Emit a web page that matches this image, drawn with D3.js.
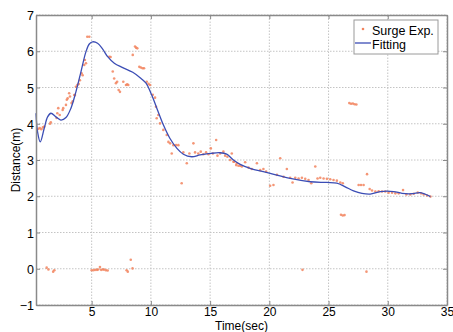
<!DOCTYPE html>
<html>
<head>
<meta charset="utf-8">
<script src="https://cdn.jsdelivr.net/npm/d3@7"></script>
<style>
  html, body { margin: 0; padding: 0; background: #fff; }
  svg { display: block; }
  text { font-family: "Liberation Sans", Arial, Helvetica, sans-serif; fill: #000; }
</style>
</head>
<body>
<svg id="chart" width="453" height="332"></svg>
<script>
// Surge experiment samples: time (s) and measured distance (m)
const surgeTime = [
  0.5, 0.62, 0.75, 0.88, 1.0, 1.48, 1.55, 2.04, 2.1, 2.18, 2.3, 2.55, 2.6, 2.83, 2.9, 2.97,
  3.1, 3.17, 3.3, 3.4, 3.53, 3.59, 3.67, 3.79, 3.9, 4.01, 4.15, 4.24, 4.37, 4.43, 4.52, 4.63, 4.8,
  6.49, 6.6, 6.78, 6.9, 7.05, 7.15, 7.28, 7.39, 7.67, 7.9, 8.0, 8.09, 8.47, 8.66, 8.75, 8.85,
  9.02, 9.15, 9.3, 9.42, 9.65, 9.8, 9.93, 10.16, 10.35,
  10.43, 10.49, 10.63, 10.77, 11.05, 11.34, 11.48, 11.62, 11.76, 11.9, 12.13, 12.32, 12.6, 12.74,
  13.03, 13.25, 13.59, 13.73, 14.0, 14.21, 14.43, 14.66, 14.86, 15.06, 15.23, 15.51, 15.62, 15.85,
  16.12, 16.27, 16.46, 16.69, 16.83, 16.97, 17.03, 17.2, 17.26, 17.39, 17.54, 17.68, 17.96, 18.24,
  18.52, 18.95, 19.23, 19.5, 19.73, 20.07, 20.35, 20.64, 20.92, 21.2, 21.48, 21.76, 21.96, 22.19,
  22.47, 22.75, 23.03, 23.31, 23.54, 23.88, 24.07, 24.3, 24.58, 24.86, 25.14, 25.42, 25.7, 25.99,
  26.2, 27.54, 27.74, 27.96, 28.25, 28.47, 28.67, 28.95, 29.23, 29.51, 29.79, 30.07, 30.36, 30.64,
  30.92, 31.29, 31.57, 31.9, 32.19, 32.53, 32.81, 33.03, 33.32, 33.6,
  26.05, 26.2, 26.35,
  26.75, 26.9, 27.05, 27.2, 27.35,
  1.2, 1.35, 1.75, 1.85, 5.0, 5.15, 5.3, 5.45, 5.55, 5.7, 5.8, 5.95, 6.05, 6.2, 6.35,
  7.95, 8.05, 8.3, 8.45, 22.8, 28.2
];
const surgeDistance = [
  3.86, 3.88, 3.85, 3.9, 3.92, 4.0, 4.04, 4.16, 4.29, 4.43, 4.24, 4.38, 4.43, 4.52, 4.66, 4.7,
  4.84, 4.75, 4.57, 4.62, 4.79, 4.79, 5.02, 5.07, 5.1, 5.2, 5.39, 5.34, 5.62, 5.76, 5.67, 6.4, 6.4,
  5.85, 5.84, 5.44, 5.25, 5.12, 5.16, 4.93, 4.88, 5.16, 5.07, 5.09, 5.07, 5.9, 6.13, 6.1, 6.08,
  5.57, 5.55, 5.53, 5.53, 5.16, 5.1, 5.07, 4.8, 4.72,
  4.47, 4.15, 4.24, 4.01, 3.83, 3.69, 3.5, 3.46, 3.18, 3.41, 3.41, 3.41, 2.36, 3.21,
  2.91, 3.18, 3.46, 3.21, 3.18, 3.23, 3.16, 3.21, 3.16, 3.32, 3.18, 3.55, 3.12, 3.18,
  3.23, 3.12, 3.09, 3.0, 3.18, 2.95, 2.95, 2.86, 2.91, 2.84, 2.84, 2.82, 2.94, 2.79,
  2.75, 2.91, 2.72, 2.75, 2.68, 2.29, 2.31, 2.59, 3.05, 2.54, 2.75, 2.51, 2.38, 2.51,
  2.49, 2.51, 2.48, 2.45, 2.36, 2.82, 2.49, 2.51, 2.49, 2.48, 2.47, 2.45, 2.43, 2.38,
  2.36, 2.31, 2.31, 2.31, 2.61, 2.2, 2.16, 2.13, 2.14, 2.13, 2.13, 2.1, 2.1, 2.08,
  2.08, 2.17, 2.05, 2.05, 2.07, 2.1, 2.08, 2.05, 2.02, 1.99,
  1.49, 1.47, 1.48,
  4.57, 4.55, 4.56, 4.54, 4.53,
  0.03, -0.02, -0.08, -0.04, -0.04, -0.04, -0.03, -0.03, -0.02, 0.05, -0.03, -0.02, -0.02, -0.04, -0.05,
  -0.04, -0.08, 0.25, 0.01, -0.03, -0.08
];

// Fitted curve knots: time (s) and distance (m)
const fitTime = [
  0.3, 0.43, 0.66, 0.99, 1.28, 1.56, 1.98, 2.4, 2.83, 3.25, 3.67, 4.1, 4.52, 4.8, 5.08, 5.5,
  5.93, 6.35, 6.91, 7.62, 8.47, 9.17, 9.59, 10.07, 10.5, 11.05, 11.6, 12.2, 12.74, 13.45, 14.15,
  15.0, 15.85, 16.4, 16.97, 17.54, 18.38, 20.07, 21.76, 23.45, 24.86, 25.7, 26.41, 27.11, 27.82,
  28.52, 29.37, 30.5, 31.2, 32.05, 32.75, 33.6
];
const fitDistance = [
  4.29, 3.78, 3.5, 3.87, 4.19, 4.29, 4.19, 4.1, 4.17, 4.43, 4.88, 5.44, 5.99, 6.2, 6.26, 6.22,
  6.06, 5.85, 5.67, 5.55, 5.42, 5.25, 5.12, 4.79, 4.43, 3.97, 3.6, 3.32, 3.16, 3.09, 3.14,
  3.18, 3.2, 3.16, 3.0, 2.88, 2.77, 2.63, 2.49, 2.4, 2.38, 2.36, 2.26, 2.15, 2.08,
  2.06, 2.13, 2.13, 2.08, 2.07, 2.1, 1.99
];

const xTicks = [5, 10, 15, 20, 25, 30, 35];
const yTicks = [-1, 0, 1, 2, 3, 4, 5, 6, 7];
const legendLabels = ["Surge Exp.", "Fitting"];

const W = 453, H = 332;
const margin = { left: 36, top: 15, right: 6, bottom: 27 };
const x = d3.scaleLinear().domain([0.3, 35]).range([margin.left, W - margin.right]);
const y = d3.scaleLinear().domain([-1, 7]).range([H - margin.bottom, margin.top]);

const svg = d3.select("#chart");
const x0 = x.range()[0], x1 = x.range()[1];
const y0 = y.range()[0], y1 = y.range()[1];

// Dotted grid
const grid = svg.append("g")
  .attr("stroke", "#c4c4c4").attr("stroke-width", 1).attr("stroke-dasharray", "1.5,1.5");
grid.selectAll(".gx").data(xTicks).join("line")
  .attr("x1", d => x(d)).attr("x2", d => x(d)).attr("y1", y0).attr("y2", y1);
grid.selectAll(".gy").data(yTicks).join("line")
  .attr("x1", x0).attr("x2", x1).attr("y1", d => y(d)).attr("y2", d => y(d));

// Experimental points
const pts = d3.range(surgeTime.length).map(i => [surgeTime[i], surgeDistance[i]]);
const plot = svg.append("g");
plot.selectAll("circle").data(pts).join("circle")
  .attr("cx", d => x(d[0])).attr("cy", d => y(d[1]))
  .attr("r", 1.3).attr("fill", "#f2845e").attr("opacity", 0.85);

// Fitted curve
const fit = d3.range(fitTime.length).map(i => [fitTime[i], fitDistance[i]]);
plot.append("path")
  .datum(fit)
  .attr("d", d3.line().x(d => x(d[0])).y(d => y(d[1])).curve(d3.curveCatmullRom.alpha(0.5)))
  .attr("fill", "none").attr("stroke", "#3b4db5").attr("stroke-width", 1.3);

// Axes (box with inward ticks on all sides)
const axisColor = "#8a8a8a";
const tickLen = 4;
const axB = svg.append("g").attr("transform", `translate(0,${y0})`)
  .call(d3.axisBottom(x).tickValues(xTicks).tickSizeInner(-tickLen).tickSizeOuter(0).tickPadding(2.5));
const axT = svg.append("g").attr("transform", `translate(0,${y1})`)
  .call(d3.axisTop(x).tickValues(xTicks).tickSizeInner(-tickLen).tickSizeOuter(0).tickFormat(""));
const axL = svg.append("g").attr("transform", `translate(${x0},0)`)
  .call(d3.axisLeft(y).tickValues(yTicks).tickSizeInner(-tickLen).tickSizeOuter(0).tickPadding(2));
const axR = svg.append("g").attr("transform", `translate(${x1},0)`)
  .call(d3.axisRight(y).tickValues(yTicks).tickSizeInner(-tickLen).tickSizeOuter(0).tickFormat(""));

[axB, axT, axL, axR].forEach(g => {
  g.select(".domain").attr("stroke", axisColor).attr("stroke-width", 1.5);
  g.selectAll(".tick line").attr("stroke", axisColor).attr("stroke-width", 1);
  g.selectAll(".tick text").attr("font-size", 12.5).attr("fill", "#000")
    .style("font-family", '"Liberation Sans", Arial, Helvetica, sans-serif');
});
axB.selectAll(".tick text").attr("font-size", 12);
axL.selectAll(".tick text").attr("dy", "0.36em");

// Axis titles
svg.append("text").attr("x", (x0 + x1) / 2).attr("y", 329.5)
  .attr("text-anchor", "middle").attr("font-size", 12).text("Time(sec)");
svg.append("text").attr("transform", `translate(19.5,${(y0 + y1) / 2}) rotate(-90)`)
  .attr("text-anchor", "middle").attr("font-size", 12).text("Distance(m)");

// Legend
const lg = svg.append("g");
lg.append("rect").attr("x", 354).attr("y", 20).attr("width", 84).attr("height", 34)
  .attr("fill", "#fff").attr("stroke", "#9a9a9a").attr("stroke-width", 1);
lg.append("circle").attr("cx", 363).attr("cy", 29).attr("r", 1.3).attr("fill", "#f2845e");
lg.append("line").attr("x1", 355).attr("x2", 371).attr("y1", 43).attr("y2", 43)
  .attr("stroke", "#3b4db5").attr("stroke-width", 1.3);
lg.selectAll(".lt").data(legendLabels).join("text")
  .attr("x", 372).attr("y", (d, i) => 34.5 + i * 14)
  .attr("font-size", 12.5).text(d => d);
</script>
</body>
</html>
